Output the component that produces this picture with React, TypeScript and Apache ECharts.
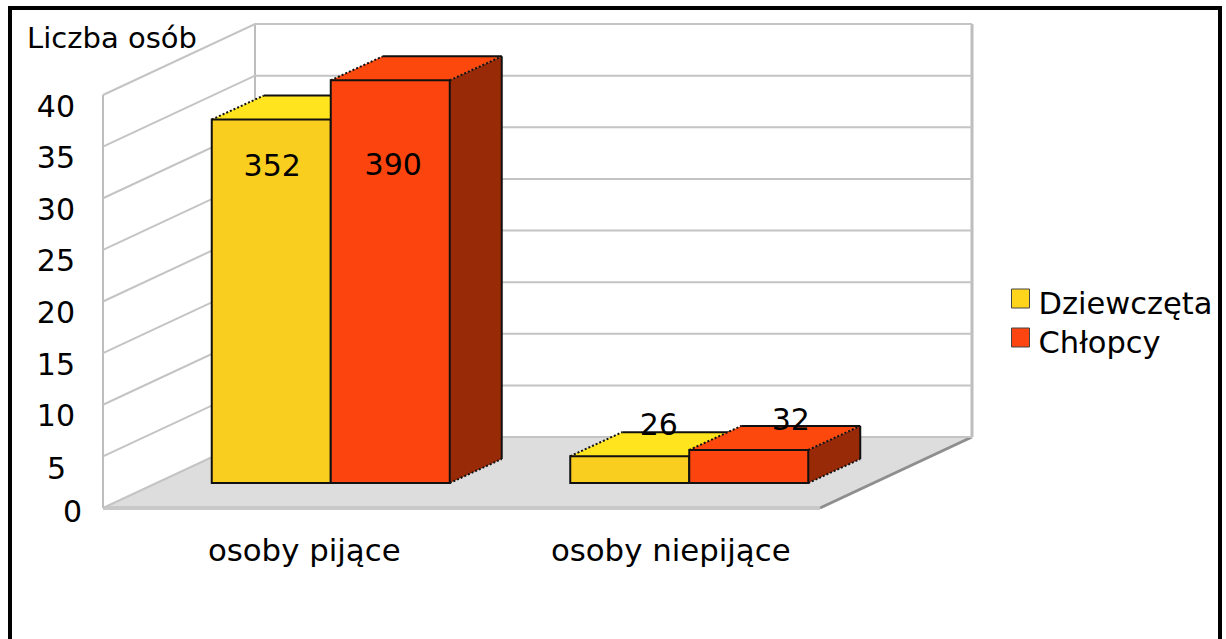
import React, { useEffect, useRef } from "react";
import * as echarts from "echarts";

const categories = ["osoby pijące", "osoby niepijące"];
const seriesNames = ["Dziewczęta", "Chłopcy"];
const girls = [352, 26];
const boys = [390, 32];
const tickValues = [0, 50, 100, 150, 200, 250, 300, 350, 400];
const tickLabels: Record<number, string> = { 0: "0", 50: "5", 100: "10", 150: "15", 200: "20", 250: "25", 300: "30", 350: "35", 400: "40" };
const yTitle = "Liczba osób";

const FONT = '"DejaVu Sans", sans-serif';
const GRID = { left: 103, top: 95, width: 717, height: 413 };
const WALL = { dx: 152, dy: 71 };
const BAR = { shiftX: 48.5, shiftY: 25, dx: 52, dy: 24, width: 119 };
const labelShift = [
  [[1, 46], [3, 84]],
  [[29, -32], [42, -30]],
];
const COLORS = [
  { front: "#F9CE1F", top: "#FFE41E", side: "#9A6A08", legend: "#FFD51C" },
  { front: "#FC450E", top: "#FC480C", side: "#982A07", legend: "#FC4510" },
];

function wallItem(params: any, api: any) {
  const value = api.value(0);
  const [x, y] = api.coord([0, value]);
  const left = GRID.left;
  const right = GRID.left + GRID.width;
  const children: any[] = [];
  if (value === 0) {
    children.push({
      type: "polygon",
      shape: { points: [[left, y], [left + WALL.dx, y - WALL.dy], [right + WALL.dx, y - WALL.dy], [right, y]] },
      style: { fill: "#DDDDDD", stroke: null },
    });
    children.push({
      type: "line",
      shape: { x1: right, y1: y, x2: right + WALL.dx, y2: y - WALL.dy },
      style: { stroke: "#8E8E8E", lineWidth: 3 },
    });
    children.push({
      type: "line",
      shape: { x1: left, y1: y, x2: right, y2: y },
      style: { stroke: "#C8C8C8", lineWidth: 4 },
    });
    const top = api.coord([0, 400])[1];
    children.push({
      type: "polyline",
      shape: { points: [[left, top], [left, y]] },
      style: { stroke: "#BDBDBD", lineWidth: 2, fill: null },
    });
    children.push({
      type: "line",
      shape: { x1: left + WALL.dx, y1: top - WALL.dy, x2: left + WALL.dx, y2: y - WALL.dy },
      style: { stroke: "#BDBDBD", lineWidth: 2 },
    });
    children.push({
      type: "line",
      shape: { x1: right + WALL.dx, y1: top - WALL.dy, x2: right + WALL.dx, y2: y - WALL.dy },
      style: { stroke: "#BDBDBD", lineWidth: 3 },
    });
  }
  children.push({
    type: "polyline",
    shape: {
      points: [[left, y], [left + WALL.dx, y - WALL.dy], [right + WALL.dx, y - WALL.dy]],
    },
    style: { stroke: "#C4C4C4", lineWidth: 2, fill: null },
  });
  return { type: "group", children };
}

function barRenderer(seriesIndex: number) {
  return (params: any, api: any) => {
    const cat = api.value(0);
    const val = api.value(1);
    const c = COLORS[seriesIndex];
    const center = api.coord([cat, 0])[0] + BAR.shiftX;
    const base = api.coord([cat, 0])[1] - BAR.shiftY;
    const top = api.coord([cat, val])[1] - BAR.shiftY;
    const x0 = seriesIndex === 0 ? center - BAR.width : center;
    const x1 = x0 + BAR.width;
    const { dx, dy } = BAR;
    const edge = { stroke: "#111111", lineWidth: 2 };
    const dashed = { stroke: "#111111", lineWidth: 2, lineDash: [2, 2] };
    const [sx, sy] = labelShift[cat][seriesIndex];
    return {
      type: "group",
      children: [
        { type: "polygon", shape: { points: [[x0, top], [x0 + dx, top - dy], [x1 + dx, top - dy], [x1, top]] }, style: { fill: c.top, stroke: null } },
        { type: "polygon", shape: { points: [[x1, top], [x1 + dx, top - dy], [x1 + dx, base - dy], [x1, base]] }, style: { fill: c.side, stroke: null } },
        { type: "rect", shape: { x: x0, y: top, width: BAR.width, height: base - top }, style: { fill: c.front, stroke: "#111111", lineWidth: 2 } },
        { type: "line", shape: { x1: x0 + dx, y1: top - dy, x2: x1 + dx, y2: top - dy }, style: edge },
        { type: "line", shape: { x1: x1 + dx, y1: top - dy, x2: x1 + dx, y2: base - dy }, style: edge },
        { type: "line", shape: { x1: x0, y1: top, x2: x0 + dx, y2: top - dy }, style: dashed },
        { type: "line", shape: { x1: x1, y1: top, x2: x1 + dx, y2: top - dy }, style: dashed },
        { type: "line", shape: { x1: x1, y1: base, x2: x1 + dx, y2: base - dy }, style: dashed },
        {
          type: "text",
          z2: 50,
          style: {
            x: (x0 + x1) / 2 + sx,
            y: top + sy,
            text: String(val),
            fill: "#000",
            font: `30px ${FONT}`,
            align: "center",
            verticalAlign: "middle",
          },
        },
      ],
    };
  };
}

export default function App() {
  const ref = useRef<HTMLDivElement>(null);
  useEffect(() => {
    document.body.style.margin = "0";
    document.body.style.background = "#fff";
    const chart = echarts.init(ref.current!, null, { renderer: "svg" });
    chart.setOption({
      animation: false,
      backgroundColor: "#ffffff",
      grid: { ...GRID, containLabel: false },
      xAxis: {
        type: "category",
        data: [
          { value: categories[0], textStyle: { padding: [0, 0, 0, 44] } },
          { value: categories[1], textStyle: { padding: [0, 0, 0, 60] } },
        ],
        axisLine: { show: false },
        axisTick: { show: false },
        axisLabel: { color: "#000", fontFamily: FONT, fontSize: 30.8, margin: 26, interval: 0 },
      },
      yAxis: {
        type: "value",
        min: 0,
        max: 400,
        interval: 50,
        name: yTitle,
        nameLocation: "end",
        nameGap: 57,
        nameTextStyle: { color: "#000", fontFamily: FONT, fontSize: 29, align: "center", verticalAlign: "middle", padding: [0, 0, 0, 18] },
        axisLine: { show: false },
        axisTick: { show: false },
        splitLine: { show: false },
        axisLabel: {
          color: "#000",
          fontFamily: FONT,
          fontSize: 30,
          margin: 21,
          formatter: (v: number) => {
            const t = tickLabels[v];
            return v === 0 ? `{zero|${t}}` : t.length === 1 ? `{one|${t}}` : `{two|${t}}`;
          },
          rich: {
            zero: { fontSize: 30, fontFamily: FONT, padding: [6, 0, 0, 0] },
            one: { fontSize: 30, fontFamily: FONT, padding: [24, 16, 0, 0] },
            two: { fontSize: 30, fontFamily: FONT, padding: [22, 7, 0, 0] },
          },
        },
      },
      legend: {
        left: 1011,
        top: 288,
        padding: 0,
        orient: "vertical",
        itemWidth: 18,
        itemHeight: 19,
        itemGap: 8,
        selectedMode: false,
        formatter: (name: string) => `{t|${name}}`,
        textStyle: {
          color: "#000",
          fontFamily: FONT,
          fontSize: 30.5,
          rich: { t: { color: "#000", fontFamily: FONT, fontSize: 30.5, padding: [10, 0, 0, 4] } },
        },
        data: seriesNames.map((name, i) => ({
          name,
          icon: "rect",
          itemStyle: { color: COLORS[i].legend, borderColor: "#444", borderWidth: 1 },
        })),
      },
      graphic: [
        {
          type: "rect",
          z: 100,
          silent: true,
          shape: { x: 10, y: 8, width: 1210, height: 700 },
          style: { fill: "none", stroke: "#000", lineWidth: 4 },
        },
      ],
      series: [
        {
          type: "custom",
          name: "walls",
          coordinateSystem: "cartesian2d",
          silent: true,
          z: 1,
          data: tickValues.map((v) => [v]),
          encode: { y: 0 },
          renderItem: wallItem,
        },
        {
          type: "custom",
          name: seriesNames[0],
          z: 3,
          itemStyle: { color: COLORS[0].legend },
          data: girls.map((v, i) => [i, v]),
          encode: { x: 0, y: 1 },
          renderItem: barRenderer(0),
        },
        {
          type: "custom",
          name: seriesNames[1],
          z: 4,
          itemStyle: { color: COLORS[1].legend },
          data: boys.map((v, i) => [i, v]),
          encode: { x: 0, y: 1 },
          renderItem: barRenderer(1),
        },
      ],
    });
    return () => chart.dispose();
  }, []);
  return <div ref={ref} style={{ width: 1226, height: 639 }} />;
}
